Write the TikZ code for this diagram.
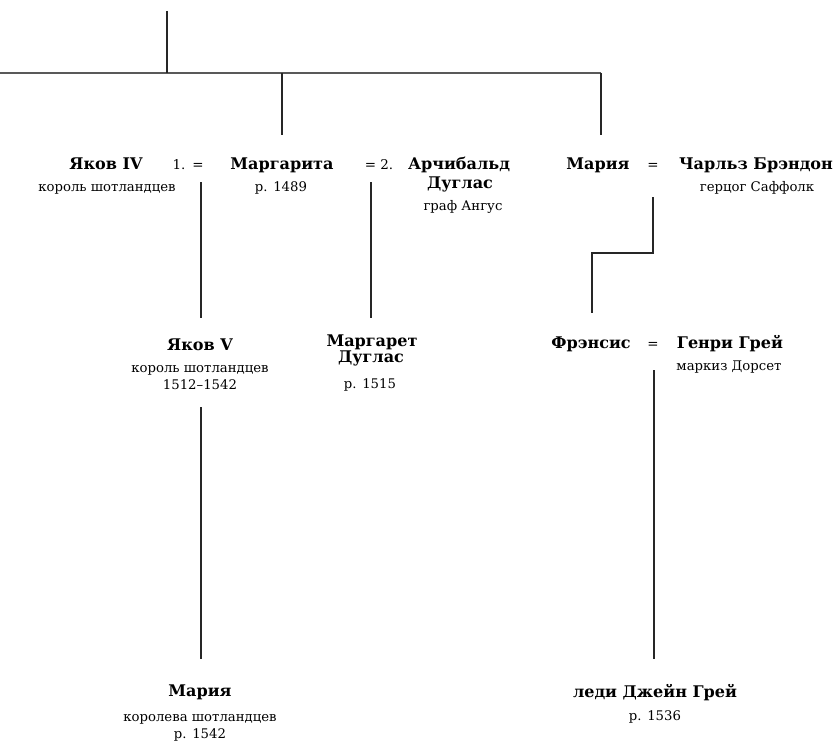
\documentclass[tikz,border=0pt]{standalone}
\usepackage{fontspec}
\setmainfont{DejaVu Serif}
\begin{document}
\begin{tikzpicture}[x=1bp,y=-1bp,
  pname/.style={font=\bfseries\fontsize{16.1}{18}\selectfont, inner sep=0pt, anchor=base},
  ptitle/.style={font=\fontsize{13.3}{15}\selectfont, inner sep=0pt, anchor=base},
  peq/.style={font=\fontsize{13.5}{15}\selectfont, inner sep=0pt, anchor=base},
  ln/.style={line width=1.3bp, draw=black!85},
  bar/.style={line width=1.8bp, draw=black!65}]
\fill[white] (0,0) rectangle (838,742);
\useasboundingbox (0,0) rectangle (838,742);
% row 1
\node[pname] (j4) at (106,169) {Яков IV};
\node[ptitle] (j4t) at (107,191) {король шотландцев};
\node[peq] (m1) at (179,169) {1.};
\node[peq] (eq1) at (198,169) {=};
\node[pname] (marg) at (282,169) {Маргарита};
\node[ptitle] (margb) at (281,191) {р. 1489};
\node[peq] (eq2) at (379,169) {= 2.};
\node[pname] (arch) at (459,169) {Арчибальд};
\node[pname] (arch2) at (460,188) {Дуглас};
\node[ptitle] (archt) at (463,210) {граф Ангус};
\node[pname] (mar) at (598,169) {Мария};
\node[peq] (eq3) at (653,169) {=};
\node[pname] (charles) at (756,169) {Чарльз Брэндон};
\node[ptitle] (charlest) at (757,191) {герцог Саффолк};
% row 2
\node[pname] (j5) at (200,350) {Яков V};
\node[ptitle] (j5t) at (200,372) {король шотландцев};
\node[ptitle] (j5d) at (200,389) {1512–1542};
\node[pname] (mgd) at (372,346) {Маргарет};
\node[pname] (mgd2) at (371,362) {Дуглас};
\node[ptitle] (mgdb) at (370,388) {р. 1515};
\node[pname] (fr) at (591,348) {Фрэнсис};
\node[peq] (eq4) at (653,348) {=};
\node[pname] (hg) at (730,348) {Генри Грей};
\node[ptitle] (hgt) at (729,370) {маркиз Дорсет};
% row 3
\node[pname] (mq) at (200,696) {Мария};
\node[ptitle] (mqt) at (200,721) {королева шотландцев};
\node[ptitle] (mqb) at (200,738) {р. 1542};
\node[pname] (jg) at (655,697) {леди Джейн Грей};
\node[ptitle] (jgb) at (655,720) {р. 1536};
% connector points
\coordinate (root) at (167,11);
\coordinate (rootj) at (167,73);
\coordinate (barL) at (0,73);
\coordinate (margj) at (282,73);
\coordinate (marj) at (601,73);
\coordinate (margin) at (282,135);
\coordinate (marin) at (601,135);
\coordinate (m1out) at (201,182);
\coordinate (j5in) at (201,318);
\coordinate (m2out) at (371,182);
\coordinate (mgdin) at (371,318);
\coordinate (m3out) at (653,197);
\coordinate (m3a) at (653,253);
\coordinate (m3b) at (592,253);
\coordinate (frin) at (592,313);
\coordinate (j5out) at (201,407);
\coordinate (mqin) at (201,659);
\coordinate (m4out) at (654,370);
\coordinate (jgin) at (654,659);
% connectors
\draw[bar] (barL) -- (marj);
\draw[ln] (root) -- (rootj);
\draw[ln] (margj) -- (margin);
\draw[ln] (marj) -- (marin);
\draw[ln] (m1out) -- (j5in);
\draw[ln] (m2out) -- (mgdin);
\draw[ln] (m3out) -- (m3a) -- (m3b) -- (frin);
\draw[ln] (j5out) -- (mqin);
\draw[ln] (m4out) -- (jgin);
\end{tikzpicture}
\end{document}
